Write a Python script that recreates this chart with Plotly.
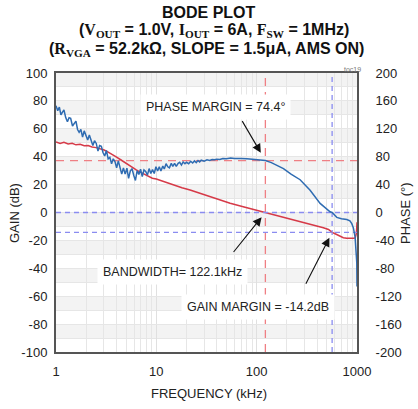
import math
import plotly.graph_objects as go

# ---------------- data ----------------
gain_freq_khz = [1.00, 1.10, 1.20, 1.32, 1.45, 1.58, 1.74, 1.91, 2.09, 2.29, 2.51, 2.75,
                 3.02, 3.31, 3.63, 3.98, 4.37, 4.79, 5.25, 5.75, 6.31, 6.92, 7.59, 8.32,
                 9.12, 10.0, 12.0, 15.0, 18.0, 21.7, 30.0, 40.0, 54.4, 75.0, 100.0, 122.1,
                 160.0, 200.0, 271.0, 350.0, 462.0, 520.0, 565.0, 620.0, 680.0, 730.0,
                 790.0, 850.0, 920.0, 960.0, 985.0, 995.0, 1000.0]
gain_db = [50.5, 49.5, 50.3, 49.2, 49.6, 48.5, 48.9, 47.8, 48.0, 46.9, 46.5, 45.6,
           44.8, 43.3, 41.8, 39.8, 38.0, 36.0, 34.3, 32.3, 30.6, 29.0, 27.5, 26.0,
           24.6, 24.0, 21.9, 19.8, 17.8, 16.1, 12.7, 9.7, 6.6, 3.9, 1.6, 0.0,
           -2.2, -4.1, -6.6, -8.7, -10.9, -12.2, -14.2, -15.6, -17.3, -18.1,
           -18.5, -18.6, -18.5, -18.2, -15.0, -10.0, -7.0]

phase_freq_khz = [1.00, 1.04, 1.08, 1.12, 1.16, 1.20, 1.25, 1.30, 1.35, 1.40,
                  1.46, 1.52, 1.58, 1.64, 1.70, 1.77, 1.84, 1.91, 1.99, 2.07,
                  2.15, 2.24, 2.33, 2.42, 2.52, 2.62, 2.72, 2.83, 2.94, 3.06,
                  3.18, 3.31, 3.44, 3.58, 3.72, 3.87, 4.02, 4.18, 4.35, 4.52,
                  4.70, 4.89, 5.09, 5.29, 5.50, 5.72, 5.95, 6.19, 6.44, 6.70,
                  6.96, 7.24, 7.53, 7.83, 8.15, 8.47, 8.81, 9.16, 9.53, 9.91,
                  10.3, 10.7, 11.1, 11.6, 12.0, 12.5, 13.0, 13.5, 14.1, 14.6,
                  15.2, 15.8, 16.5, 17.1, 17.8, 18.5, 19.3, 20.0,
                  21.0, 22.0, 23.0, 24.0, 25.0, 26.0, 27.0, 28.0, 30.0, 32.0, 34.0, 36.0,
                  38.0, 40.0, 43.0, 46.0, 50.0, 55.0, 60.0, 65.0, 70.0, 80.0, 90.0, 100.0,
                  110.0, 122.1, 140.0, 160.0, 185.0, 220.0, 271.0, 341.0, 429.0, 539.0,
                  565.0, 629.0, 700.0, 791.0, 850.0, 887.0, 920.0, 957.0, 980.0, 995.0, 1000.0]
phase_deg = [153, 146, 151, 140, 144, 147, 136, 130, 136, 135,
             124, 127, 131, 119, 115, 119, 108, 117, 110, 104,
             111, 102, 96, 103, 99, 88, 96, 95, 86, 81,
             89, 77, 79, 70, 77, 73, 64, 74, 63, 55,
             64, 55, 63.5, 49, 59.5, 63, 53.5, 46, 60, 54.5,
             62, 51.5, 61, 59, 53.5, 63, 56, 61.5, 56, 65.5,
             59.5, 65.5, 59.5, 66.5, 62.5, 70, 65.5, 64, 70.5, 66,
             70.5, 66, 70.5, 72, 68, 72.5, 70, 72,
             70, 73.5, 71, 74, 71.5, 74.5, 72.5, 75, 73.5, 75.5, 74.5, 76,
             75.5, 76.5, 76, 77.5, 77, 78, 77.5, 78, 77.5, 77.2, 76.5, 75.8,
             75.2, 74.4, 71.5, 67.5, 63, 55, 47, 32, 13, 1,
             0, -7, -9, -10, -12, -16, -22, -35, -55, -72, -106]

crossover_khz = 122.1      # bandwidth
phase_margin_deg = 74.4
gm_freq_khz = 565.0
gain_margin_db = -14.2

x_tick_vals = [1, 10, 100, 1000]
x_tick_text = ["1", "10", "100", "1000"]
x_minor_vals = [2, 3, 4, 5, 6, 7, 8, 9, 20, 30, 40, 50, 60, 70, 80, 90,
                200, 300, 400, 500, 600, 700, 800, 900]
gain_ticks = [-100, -80, -60, -40, -20, 0, 20, 40, 60, 80, 100]
gain_tick_text = ["-100", "-80", "-60", "-40", "-20", "0", "20", "40", "60", "80", "100"]
phase_ticks = [-200, -160, -120, -80, -40, 0, 40, 80, 120, 160, 200]
phase_tick_text = ["-200", "-160", "-120", "-80", "-40", "0", "40", "80", "120", "160", "200"]
band_starts = [-90, -70, -50, -30, -10, 10, 30, 50, 70, 90]

FONT = "Arial, 'Liberation Sans', sans-serif"
RED = "#d63a48"
BLUE = "#2f6cb2"
RED_DASH = "#ef7f84"
BLUE_DASH = "#8a8cf0"

# plot-area geometry in pixels (for placing free text)
L, R, T, B = 56, 357, 73, 352
def px_x(px):
    return (px - L) / (R - L)
def px_y(py):
    return (B - py) / (B - T)

fig = go.Figure()

for b in band_starts:
    fig.add_shape(type="rect", xref="paper", yref="y", x0=0, x1=1, y0=b, y1=b + 10,
                  fillcolor="#f3f3f3", line_width=0, layer="below")

fig.add_trace(go.Scatter(x=gain_freq_khz, y=gain_db, mode="lines",
                         line=dict(color=RED, width=1.5), yaxis="y", showlegend=False))

fig.add_trace(go.Scatter(x=[1, 1000], y=[phase_margin_deg / 2, phase_margin_deg / 2], mode="lines",
                         line=dict(color=RED_DASH, width=1.3, dash="8px,6px"), showlegend=False))
fig.add_trace(go.Scatter(x=[crossover_khz, crossover_khz], y=[-100, 100], mode="lines",
                         line=dict(color=RED_DASH, width=1.3, dash="8px,6px"), showlegend=False))
fig.add_trace(go.Scatter(x=[1, 1000], y=[0, 0], mode="lines",
                         line=dict(color=BLUE_DASH, width=1.3, dash="5px,4px"), showlegend=False))
fig.add_trace(go.Scatter(x=[1, 1000], y=[gain_margin_db, gain_margin_db], mode="lines",
                         line=dict(color=BLUE_DASH, width=1.3, dash="5px,4px"), showlegend=False))
fig.add_trace(go.Scatter(x=[gm_freq_khz, gm_freq_khz], y=[-100, 100], mode="lines",
                         line=dict(color=BLUE_DASH, width=1.3, dash="5px,4px"), showlegend=False))

fig.add_trace(go.Scatter(x=phase_freq_khz, y=phase_deg, mode="lines",
                         line=dict(color=BLUE, width=1.5), yaxis="y2", showlegend=False))

ann_font = dict(family=FONT, size=12.5, color="#222")
title_font = dict(family=FONT, size=16, color="#111")
sv = lambda s: "<span style=\"font-family:Liberation Serif, Times New Roman, serif\">" + s + "</span>"

annotations = [
    dict(x=math.log10(38.5), y=75.6, xref="x", yref="y", text="PHASE MARGIN = 74.4°",
         showarrow=False, font=ann_font, bgcolor="white", borderpad=5),
    dict(x=math.log10(14.5), y=-42.7, xref="x", yref="y", text="BANDWIDTH= 122.1kHz",
         showarrow=False, font=ann_font, bgcolor="white", borderpad=5),
    dict(x=math.log10(103), y=-67.7, xref="x", yref="y", text="GAIN MARGIN = -14.2dB",
         showarrow=False, font=ann_font, bgcolor="white", borderpad=5),
    dict(x=math.log10(crossover_khz), y=phase_margin_deg / 2, xref="x", yref="y", text="",
         showarrow=True, ax=-24, ay=-41, arrowhead=2, arrowsize=1.6, arrowwidth=1.1,
         arrowcolor="#111", standoff=9),
    dict(x=math.log10(crossover_khz), y=0, xref="x", yref="y", text="",
         showarrow=True, ax=-33, ay=41, arrowhead=2, arrowsize=1.6, arrowwidth=1.1,
         arrowcolor="#111", standoff=6),
    dict(x=math.log10(gm_freq_khz), y=gain_margin_db, xref="x", yref="y", text="",
         showarrow=True, ax=-27, ay=53, arrowhead=2, arrowsize=1.6, arrowwidth=1.1,
         arrowcolor="#111", standoff=6),
    dict(x=px_x(352), y=px_y(69), xref="paper", yref="paper", text="toc19", showarrow=False,
         font=dict(family=FONT, size=7, color="#777"), xanchor="center", yanchor="middle"),
    # title lines
    dict(x=px_x(209), y=px_y(12), xref="paper", yref="paper", showarrow=False,
         text="<b>BODE PLOT</b>", font=title_font, xanchor="center", yanchor="middle"),
    dict(x=px_x(214), y=px_y(31), xref="paper", yref="paper", showarrow=False,
         text="<b>(" + sv("V<sub>OUT</sub>") + " = 1.0V, " + sv("I<sub>OUT</sub>") + " = 6A, "
              + sv("F<sub>SW</sub>") + " = 1MHz)</b>",
         font=title_font, xanchor="center", yanchor="middle"),
    dict(x=px_x(206), y=px_y(49), xref="paper", yref="paper", showarrow=False,
         text="<b>(" + sv("R<sub>VGA</sub>") + " = 52.2kΩ, SLOPE = 1.5μA, AMS ON)</b>",
         font=title_font, xanchor="center", yanchor="middle"),
    # axis titles
    dict(x=px_x(209), y=px_y(393), xref="paper", yref="paper", showarrow=False,
         text="FREQUENCY (kHz)", font=dict(family=FONT, size=13, color="#222"),
         xanchor="center", yanchor="middle"),
    dict(x=px_x(14), y=px_y(213), xref="paper", yref="paper", showarrow=False,
         text="GAIN (dB)", textangle=-90, font=dict(family=FONT, size=13, color="#222"),
         xanchor="center", yanchor="middle"),
    dict(x=px_x(405), y=px_y(213), xref="paper", yref="paper", showarrow=False,
         text="PHASE (°)", textangle=-90, font=dict(family=FONT, size=13, color="#222"),
         xanchor="center", yanchor="middle"),
]

fig.update_layout(
    width=418, height=409,
    margin=dict(l=L, r=418 - R, t=T, b=409 - B, autoexpand=False),
    paper_bgcolor="white", plot_bgcolor="white",
    font=dict(family=FONT, size=13, color="#222"),
    annotations=annotations,
    xaxis=dict(type="log", range=[0, 3], tickvals=x_tick_vals, ticktext=x_tick_text,
               showline=True, linecolor="#555", linewidth=2, mirror=True,
               showgrid=True, gridcolor="#e0e0e0", gridwidth=1, zeroline=False,
               minor=dict(tickvals=x_minor_vals, showgrid=True, gridcolor="#e6e6e6", gridwidth=1),
               ticks="", ticklabelstandoff=6, automargin=False),
    yaxis=dict(range=[-100, 100], tickvals=gain_ticks, ticktext=gain_tick_text,
               showline=True, linecolor="#555",
               linewidth=2, mirror=True, showgrid=True, gridcolor="#e6e6e6", zeroline=False,
               minor=dict(dtick=10, showgrid=True, gridcolor="#e6e6e6"),
               ticks="", ticklabelstandoff=4, automargin=False),
    yaxis2=dict(range=[-200, 200], tickvals=phase_ticks, ticktext=phase_tick_text,
                overlaying="y", side="right",
                showline=True, linecolor="#555", linewidth=2, showgrid=False, zeroline=False,
                ticks="", ticklabelstandoff=14, automargin=False),
)

fig.write_html("out.html")
